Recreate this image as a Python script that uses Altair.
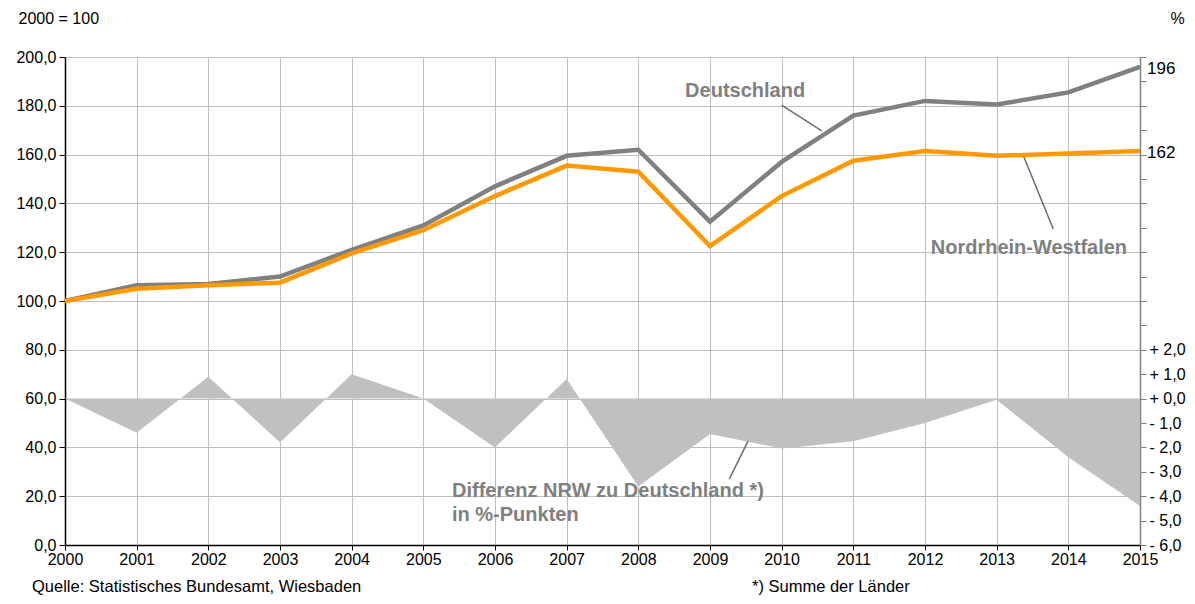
import altair as alt
import pandas as pd

# ---- data ----
years = list(range(2000, 2016))
deutschland = [100, 106.5, 107, 110, 121, 131, 147, 159.5, 162, 132.5, 157, 176, 182, 180.5, 185.5, 196]
nrw = [100, 105, 106.5, 107.5, 119.5, 129, 143, 155.5, 153, 122.5, 143, 157.5, 161.5, 159.5, 160.5, 161.5]
differenz = [0.0, -1.4, 0.9, -1.8, 1.0, 0.0, -2.0, 0.8, -3.6, -1.45, -2.05, -1.75, -1.0, -0.05, -2.4, -4.4]

end_labels = ["196", "162"]
end_values = [196, 161.5]

ann_text = ["Deutschland", "Nordrhein-Westfalen", "Differenz NRW zu Deutschland *)", "in %-Punkten"]
ann_x = [2009.49, 2013.45, 2005.40, 2005.40]
ann_y = [186.0, 121.7, 22.0, 12.2]
ann_align = ["center", "center", "left", "left"]

lead_x = [2010.0, 2013.38, 2009.53]
lead_x2 = [2010.56, 2013.79, 2009.27]
lead_y = [180.3, 159.0, 42.6]
lead_y2 = [169.7, 129.5, 27.0]

FONT = "Liberation Sans"
GRAY = "#808080"
ORANGE = "#FF9900"
GRID = "#BFBFBF"

df = pd.DataFrame({"year": years, "D": deutschland, "NRW": nrw, "diff": differenz})
ends = pd.DataFrame({"year": [2015, 2015], "v": end_values, "label": end_labels})
ann = pd.DataFrame({"x": ann_x, "y": ann_y, "text": ann_text, "align": ann_align})
leads = pd.DataFrame({"x": lead_x, "x2": lead_x2, "y": lead_y, "y2": lead_y2})

yscale = alt.Scale(domain=[0, 200], nice=False, zero=False)
xscale = alt.Scale(domain=[2000, 2015], nice=False, zero=False)

left_axis = alt.Axis(
    values=list(range(0, 201, 20)),
    labelExpr="replace(format(datum.value, '.1f'), '.', ',')",
    grid=True, gridColor=GRID, gridWidth=1,
    domainColor="black", domainWidth=1.5, tickColor="black", tickSize=6,
    labelFont=FONT, labelFontSize=16, labelColor="black", labelPadding=3,
    title="2000 = 100", titleAngle=0, titleAlign="left", titleBaseline="middle",
    titleX=-47, titleY=-39, titleFont=FONT, titleFontSize=16,
    titleFontWeight="normal", titleColor="black",
)

x_axis = alt.Axis(
    values=years, format="d", grid=True, gridColor=GRID, gridWidth=1,
    domainColor="black", domainWidth=1.5, tickColor="black", tickSize=5,
    labelFont=FONT, labelFontSize=16, labelColor="black", labelPadding=1,
    title=None, labelFlush=False,
)

def X(field="year"):
    return alt.X(f"{field}:Q", scale=xscale, axis=x_axis)

def Y(field):
    return alt.Y(f"{field}:Q", scale=yscale, axis=left_axis)

base = alt.Chart(df)

area = base.transform_calculate(
    lo="60 + 10 * datum.diff", zeroline="60"
).mark_area(color="#C0C0C0", opacity=1).encode(
    x=X(), y=Y("lo"), y2="zeroline:Q"
)

line_d = base.mark_line(color=GRAY, strokeWidth=4.5).encode(x=X(), y=Y("D"))
line_n = base.mark_line(color=ORANGE, strokeWidth=4.5).encode(x=X(), y=Y("NRW"))

rules = alt.Chart(leads).mark_rule(color="#6b6b6b", strokeWidth=1.5).encode(
    x=X("x"), x2="x2:Q", y=Y("y"), y2="y2:Q"
)

ann_c = alt.Chart(ann[ann["align"] == "center"]).mark_text(
    font=FONT, fontSize=20, fontWeight="bold", color=GRAY, align="center", baseline="middle"
).encode(x=X("x"), y=Y("y"), text="text:N")

ann_l = alt.Chart(ann[ann["align"] == "left"]).mark_text(
    font=FONT, fontSize=20, fontWeight="bold", color=GRAY, align="left", baseline="middle"
).encode(x=X("x"), y=Y("y"), text="text:N")

foot = alt.Chart(pd.DataFrame({"t": ["Quelle: Statistisches Bundesamt, Wiesbaden"]})).mark_text(
    font=FONT, fontSize=16.5, color="black", align="left", baseline="middle"
).encode(x=alt.value(-33), y=alt.value(530), text="t:N")

foot2 = alt.Chart(pd.DataFrame({"t": ["*) Summe der Länder"]})).mark_text(
    font=FONT, fontSize=16.5, color="black", align="left", baseline="middle"
).encode(x=alt.value(687), y=alt.value(530), text="t:N")

left_group = alt.layer(area, line_d, line_n, rules, ann_c, ann_l, foot, foot2)

right_axis = alt.Axis(
    orient="right",
    values=list(range(0, 201, 10)),
    labelExpr="datum.value <= 80 ? ((datum.value >= 60 ? '+ ' : '- ') + replace(format(abs((datum.value - 60) / 10), '.1f'), '.', ',')) : ''",
    grid=False, domainColor=GRAY, domainWidth=1.5, tickColor=GRAY, tickSize=6,
    labelFont=FONT, labelFontSize=16, labelColor="black", labelPadding=3,
    title="%", titleAngle=0, titleAlign="center", titleBaseline="middle",
    titleX=37, titleY=-39, titleFont=FONT, titleFontSize=16,
    titleFontWeight="normal", titleColor="black",
)

end_text = alt.Chart(ends).mark_text(
    font=FONT, fontSize=17, color="black", align="left", baseline="middle", dx=7, dy=2
).encode(
    x=X(), y=alt.Y("v:Q", scale=yscale, axis=right_axis), text="label:N"
)

chart = alt.layer(left_group, end_text).resolve_scale(y="independent").properties(
    width=1075, height=488,
    autosize=alt.AutoSizeParams(type="none"),
    padding={"left": 57, "top": 49, "right": 47, "bottom": 51},
).configure_view(stroke=None).configure(background="white")

chart.save("out.html", embed_options={"renderer": "svg", "actions": False})
